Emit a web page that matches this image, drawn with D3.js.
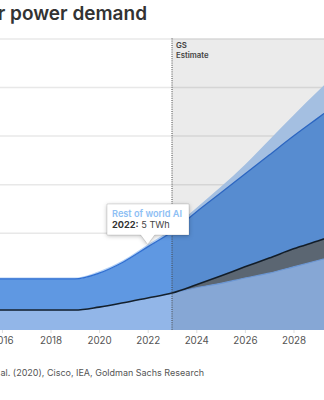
<!DOCTYPE html>
<html>
<head>
<meta charset="utf-8">
<script src="https://cdn.jsdelivr.net/npm/d3@7/dist/d3.min.js"></script>
<style>
  html, body { margin: 0; padding: 0; background: #fff; }
  svg { display: block; }
  text { font-family: "Inter", "Roboto", sans-serif; }
</style>
</head>
<body>
<svg id="chart" width="324" height="400"></svg>
<script>
// Data center power demand, TWh (stacked layers, bottom to top)
const years = [2015, 2016, 2017, 2018, 2019, 2020, 2021, 2022, 2023, 2024, 2025, 2026, 2027, 2028, 2029, 2030];
const usNonAI   = [41, 41, 41, 41, 41, 47, 56, 66, 76, 87, 96, 107, 117, 130, 143, 156];
const usAI      = [0, 0, 0, 0, 0, 0, 0, 0, 0, 6, 15, 23, 31, 37, 40, 44];
const rowNonAI  = [64, 64, 64, 64, 64, 70, 84, 105, 126, 150, 171, 191, 212, 232, 253, 273];
const rowAI     = [3, 3, 3, 3, 3, 4, 4, 5, 6, 8, 12, 19, 31, 43, 55, 67];
const tickYears = [2016, 2018, 2020, 2022, 2024, 2026, 2028];
const gridValues = [0, 100, 200, 300, 400, 500, 600];
const estimateStart = 2023;
const highlightYear = 2022;

const keys = ["usNonAI", "usAI", "rowNonAI", "rowAI"];
const table = years.map((yr, i) => ({
  year: yr, usNonAI: usNonAI[i], usAI: usAI[i], rowNonAI: rowNonAI[i], rowAI: rowAI[i]
}));

const svg = d3.select("#chart");
const W = 324;

const x = d3.scaleLinear().domain([2015, 2030]).range([-22.4, 342.1]);
const y = d3.scaleLinear().domain([0, 600]).range([330, 38.4]);

const fills = { usNonAI: "#92b6e8", usAI: "#636f7c", rowNonAI: "#5f98e2", rowAI: "#b2d0f5" };

// Title
svg.append("text")
  .attr("x", 147).attr("y", 20)
  .attr("text-anchor", "end")
  .attr("font-size", 19).attr("font-weight", 600)
  .attr("fill", "#333")
  .text("Data center power demand");

// Gridlines
svg.append("g").selectAll("line").data(gridValues.slice(1)).join("line")
  .attr("x1", 0).attr("x2", W)
  .attr("y1", d => y(d) + 0.5).attr("y2", d => y(d) + 0.5)
  .attr("stroke", "#e8e8e8").attr("stroke-width", 1.5);

// Stacked areas
const stack = d3.stack().keys(keys);
const series = stack(table);
const area = d3.area()
  .x(d => x(d.data.year))
  .y0(d => y(d[0]))
  .y1(d => y(d[1]))
  .curve(d3.curveMonotoneX);

svg.append("g").selectAll("path").data(series).join("path")
  .attr("d", area)
  .attr("fill", d => fills[d.key]);

const topLine = d3.line()
  .x(d => x(d.data.year))
  .y(d => y(d[1]))
  .curve(d3.curveMonotoneX);

// Edge strokes
svg.append("path").datum(series[0]).attr("d", topLine)
  .attr("fill", "none").attr("stroke", "#74a3e6").attr("stroke-width", 1.2);
svg.append("path").datum(series[2]).attr("d", topLine)
  .attr("fill", "none").attr("stroke", "#2f6ed1").attr("stroke-width", 1.3);
svg.append("path").datum(series[1]).attr("d", topLine)
  .attr("fill", "none").attr("stroke", "#14202c").attr("stroke-width", 1.6);

// Estimate shading
svg.append("rect")
  .attr("x", x(estimateStart)).attr("y", y(600))
  .attr("width", W - x(estimateStart)).attr("height", y(0) - y(600))
  .attr("fill", "rgba(0,0,0,0.08)");

// Dotted divider
svg.append("line")
  .attr("x1", x(estimateStart)).attr("x2", x(estimateStart))
  .attr("y1", y(600)).attr("y2", y(0))
  .attr("stroke", "#444").attr("stroke-width", 1)
  .attr("stroke-dasharray", "1,1.2");

svg.append("text").attr("x", x(estimateStart) + 4).attr("y", 48)
  .attr("font-size", 7.8).attr("font-weight", 600).attr("fill", "#444").text("GS");
svg.append("text").attr("x", x(estimateStart) + 4).attr("y", 58)
  .attr("font-size", 7.8).attr("font-weight", 600).attr("fill", "#444").text("Estimate");

// X axis
const xAxis = d3.axisBottom(x).tickValues(tickYears).tickFormat(d3.format("d"))
  .tickSize(3).tickPadding(4);
const gx = svg.append("g").attr("transform", `translate(0,${y(0)})`).call(xAxis);
gx.select(".domain").remove();
gx.selectAll(".tick line").attr("stroke", "#ddd");
gx.selectAll(".tick text").attr("font-size", 9.8).attr("fill", "#555")
  .attr("font-family", "Inter, Roboto, sans-serif");

// Source note: the line is offset left so that "al." starts at the page edge
const srcPrefix = "Source: Masanet et ";
const srcRest = "al. (2020), Cisco, IEA, Goldman Sachs Research";
const src = svg.append("text")
  .attr("y", 376)
  .attr("font-size", 9).attr("fill", "#555");
src.append("tspan").text(srcPrefix);
src.append("tspan").text(srcRest);
const prefixW = src.node().getSubStringLength(0, srcPrefix.length);
src.attr("x", -prefixW + 0.5);

// Tooltip for highlighted point
const hi = years.indexOf(highlightYear);
const px = x(highlightYear);
const py = y(usNonAI[hi] + usAI[hi] + rowNonAI[hi] + rowAI[hi]);
const tip = svg.append("g");
const bx = 107, by = 204, bw = 82, bh = 31;
tip.append("path")
  .attr("d", `M${bx},${by}H${bx + bw}V${by + bh}H${px + 7}L${px},${py}L${px - 7},${by + bh}H${bx}Z`)
  .attr("fill", "#fff")
  .attr("stroke", "rgba(0,0,0,0.12)").attr("stroke-width", 1)
  .style("filter", "drop-shadow(0px 1px 2px rgba(0,0,0,0.25))");
tip.append("text").attr("x", bx + 5).attr("y", by + 13)
  .attr("font-size", 9.2).attr("font-weight", 600).attr("fill", "#8ec0f4")
  .text("Rest of world AI");
const t2 = tip.append("text").attr("x", bx + 5).attr("y", by + 24)
  .attr("font-size", 9.2).attr("fill", "#444");
t2.append("tspan").attr("font-weight", 700).attr("fill", "#333").text(highlightYear + ":");
t2.append("tspan").text(" " + rowAI[hi] + " TWh");
</script>
</body>
</html>
